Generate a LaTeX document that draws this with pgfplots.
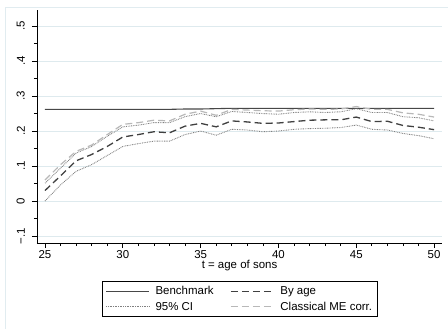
\documentclass[border=0pt]{standalone}
\usepackage{pgfplots}
\pgfplotsset{compat=1.18}
\usepackage{pgfplotstable}
\usepackage{fontspec}
\setmainfont{Liberation Sans}
\definecolor{gridc}{RGB}{222,234,238}
\definecolor{framec}{RGB}{225,236,240}
\pgfplotstableread{
x bench byage lower upper me
25 0.262 0.030 0.000 0.051 0.060
26 0.262 0.072 0.046 0.094 0.104
27 0.262 0.115 0.085 0.137 0.142
28 0.262 0.133 0.104 0.156 0.160
29 0.262 0.156 0.130 0.185 0.190
30 0.262 0.183 0.156 0.212 0.219
31 0.262 0.190 0.164 0.217 0.224
32 0.262 0.198 0.171 0.224 0.231
33 0.262 0.195 0.171 0.224 0.229
34 0.263 0.214 0.190 0.241 0.248
35 0.263 0.222 0.200 0.250 0.257
36 0.264 0.212 0.188 0.241 0.245
37 0.265 0.229 0.205 0.256 0.262
38 0.265 0.226 0.203 0.253 0.260
39 0.265 0.222 0.198 0.250 0.258
40 0.265 0.223 0.200 0.248 0.257
41 0.265 0.227 0.205 0.253 0.261
42 0.265 0.231 0.207 0.255 0.263
43 0.265 0.232 0.208 0.253 0.262
44 0.265 0.232 0.210 0.255 0.263
45 0.265 0.240 0.217 0.264 0.270
46 0.265 0.227 0.205 0.253 0.262
47 0.265 0.228 0.203 0.253 0.262
48 0.265 0.216 0.193 0.241 0.252
49 0.265 0.211 0.187 0.238 0.248
50 0.265 0.204 0.178 0.229 0.240
}\datatab
\begin{document}
\begin{tikzpicture}
\useasboundingbox (0,0) rectangle (448bp,329bp);
\draw[framec, line width=0.8bp] (5.5bp,0) -- (5.5bp,322bp) -- (448bp,322bp);
\begin{axis}[
  at={(37bp,86bp)}, anchor=south west,
  scale only axis, width=405bp, height=233bp,
  xmin=24.486, xmax=50.51, ymin=-0.12, ymax=0.546,
  axis x line*=bottom, axis y line*=left,
  axis line style={black, line width=0.8bp, -},
  xtick={25,30,...,50}, minor x tick num=4,
  ytick={-0.1,0,0.1,0.2,0.3,0.4,0.5},
  yticklabels={−.1,0,.1,.2,.3,.4,.5},
  minor y tick num=1,
  tick align=outside,
  major tick length=5bp, minor tick length=3bp,
  tick style={black, line width=0.7bp},
  ymajorgrids, grid style={gridc, line width=0.8bp},
  every tick label/.append style={font=\fontsize{11.5}{13}\selectfont},
  xticklabel style={inner sep=1pt, yshift=-1pt},
  yticklabel style={xshift=-6bp, rotate=90, anchor=south, inner sep=1pt},
  /pgf/number format/assume math mode=true,
  xlabel={t = age of sons},
  xlabel style={font=\fontsize{11.5}{13}\selectfont, inner sep=0.5pt},
  legend columns=2,
  legend cell align=left,
  legend style={at={(0.501,-0.24)}, anchor=center, draw=black, line width=0.8bp,
    font=\fontsize{11.5}{13}\selectfont, inner xsep=3pt, inner ysep=3pt,
    /tikz/every odd column/.append style={column sep=4bp},
    /tikz/every even column/.append style={column sep=15bp},
    row sep=2pt},
  legend image post style={line width=0.9bp},
  legend image code/.code={\draw[#1] (0cm,0cm) -- (43bp,0cm);},
]
\addplot[color=black!72, line width=1.1bp] table[x=x,y=bench]{\datatab};
\addlegendentry{Benchmark}
\addplot[color=black!75, line width=1.3bp, dash pattern=on 7bp off 4bp] table[x=x,y=byage]{\datatab};
\addlegendentry{By age}
\addplot[color=black!50, line width=0.9bp, dash pattern=on 0.8bp off 0.9bp] table[x=x,y=upper]{\datatab};
\addlegendentry{95\% CI}
\addplot[color=black!28, line width=1.2bp, dash pattern=on 7bp off 4bp] table[x=x,y=me]{\datatab};
\addlegendentry{Classical ME corr.}
\addplot[color=black!50, line width=0.9bp, dash pattern=on 0.8bp off 0.9bp, forget plot] table[x=x,y=lower]{\datatab};
\end{axis}
\end{tikzpicture}
\end{document}
